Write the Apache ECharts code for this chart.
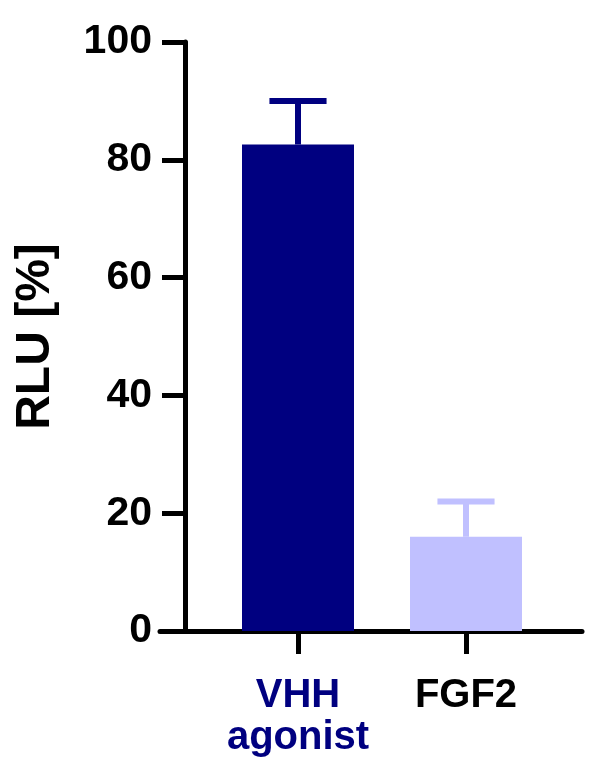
<!DOCTYPE html>
<html>
<head>
<meta charset="utf-8">
<script src="https://cdn.jsdelivr.net/npm/echarts@6/dist/echarts.min.js"></script>
<style>
  html, body { margin: 0; padding: 0; background: #fff; }
  #chart { width: 600px; height: 780px; }
</style>
</head>
<body>
<div id="chart"></div>
<script>
const categories = ['VHH agonist', 'FGF2'];
const means = [82.6, 16.0];
const upper = [90.0, 22.0];
const barColors = ['#000080', '#c0c0ff'];
const yTicks = [0, 20, 40, 60, 80, 100];

const font = "'Liberation Sans', Arial, sans-serif";
const axisWidth = 5;

var chart = echarts.init(document.getElementById('chart'));

let barData = [];
let errData = [];
categories.forEach(function (name, i) {
    barData.push({ value: means[i], itemStyle: { color: barColors[i] } });
    errData.push([i, means[i], upper[i]]);
});

chart.setOption({
    animation: false,
    grid: [
        { left: 214, right: 50, top: 42, bottom: 149 },
        { left: 160, right: 18, top: 42, bottom: 149 }
    ],
    xAxis: [{
        type: 'category',
        gridIndex: 0,
        data: categories,
        axisLine: { show: false },
        axisTick: {
            show: true,
            alignWithLabel: true,
            length: 23,
            lineStyle: { color: '#000', width: axisWidth }
        },
        axisLabel: {
            margin: 44,
            fontFamily: font,
            formatter: function (value) {
                if (value === 'VHH agonist') {
                    return '{a|VHH}\n{a|agonist}';
                }
                return '{b|' + value + '}';
            },
            rich: {
                a: { color: '#000080', fontSize: 40, fontWeight: 'bold', fontFamily: font, lineHeight: 42 },
                b: { color: '#000', fontSize: 40, fontWeight: 'bold', fontFamily: font, lineHeight: 42 }
            }
        }
    }, {
        type: 'value',
        gridIndex: 1,
        min: 0,
        max: 1,
        axisLine: { show: true, onZero: false, lineStyle: { color: '#000', width: axisWidth } },
        axisTick: { show: false },
        axisLabel: { show: false },
        splitLine: { show: false }
    }],
    yAxis: [{
        type: 'value',
        gridIndex: 0,
        min: 0,
        max: 100,
        interval: 20,
        offset: 29,
        name: 'RLU [%]',
        nameLocation: 'middle',
        nameGap: 125,
        nameTextStyle: { fontSize: 48, fontWeight: 'bold', color: '#000', fontFamily: font },
        axisLine: { show: true, lineStyle: { color: '#000', width: axisWidth } },
        axisTick: { show: true, length: 23, lineStyle: { color: '#000', width: axisWidth } },
        axisLabel: {
            margin: 33,
            fontSize: 41,
            fontWeight: 'bold',
            color: '#000',
            fontFamily: font,
            formatter: function (v) {
                return yTicks.indexOf(v) >= 0 ? String(v) : '';
            }
        },
        splitLine: { show: false }
    }, {
        type: 'value',
        gridIndex: 1,
        show: false
    }],
    series: [{
        type: 'bar',
        xAxisIndex: 0,
        yAxisIndex: 0,
        barWidth: 112,
        data: barData
    }, {
        type: 'custom',
        xAxisIndex: 0,
        yAxisIndex: 0,
        data: errData,
        encode: { x: 0, y: [1, 2] },
        renderItem: function (params, api) {
            const i = api.value(0);
            const base = api.coord([i, api.value(1)]);
            const top = api.coord([i, api.value(2)]);
            const half = api.size([1, 0])[0] * 0.17;
            const color = barColors[params.dataIndex];
            const style = { stroke: color, lineWidth: 6, fill: null };
            return {
                type: 'group',
                children: [{
                    type: 'line',
                    shape: { x1: base[0], y1: base[1], x2: top[0], y2: top[1] },
                    style: style
                }, {
                    type: 'line',
                    shape: { x1: top[0] - half, y1: top[1], x2: top[0] + half, y2: top[1] },
                    style: style
                }]
            };
        }
    }]
});
</script>
</body>
</html>
